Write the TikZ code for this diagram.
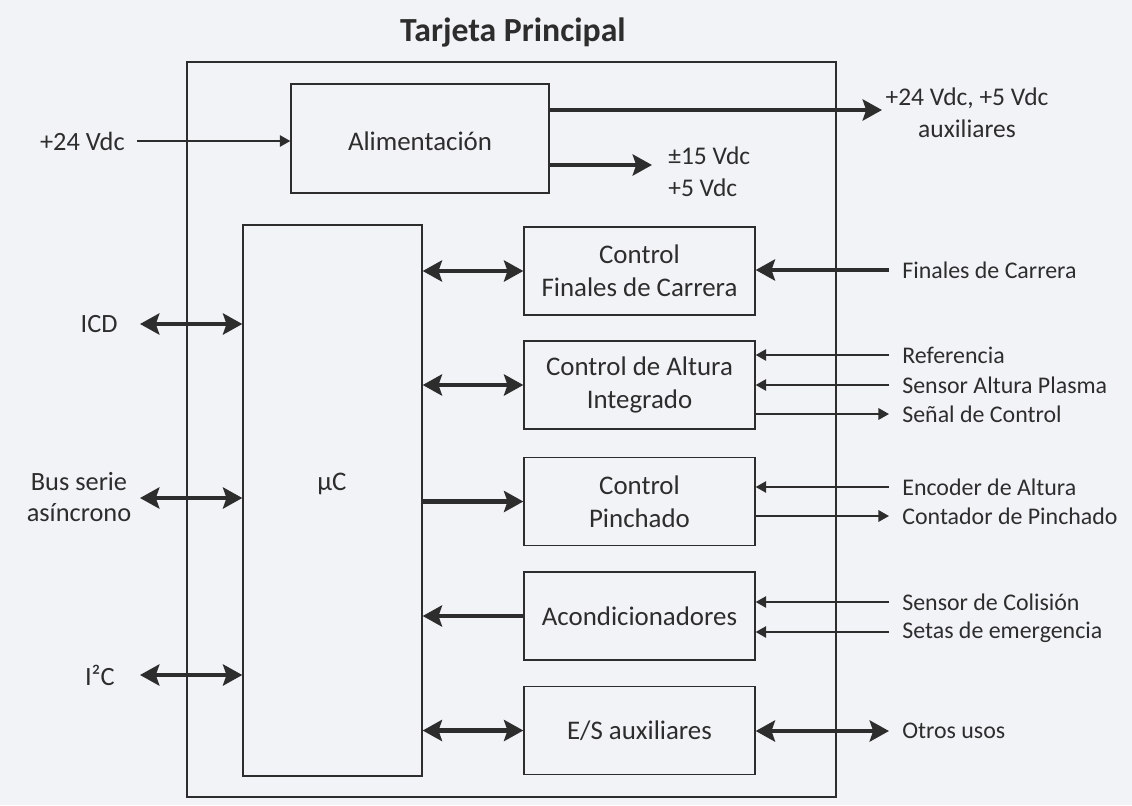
\documentclass[tikz,border=0pt]{standalone}
\usepackage{fontspec}
\setmainfont{Carlito}
\usepackage{xcolor}
\usetikzlibrary{arrows.meta,positioning}
\definecolor{paper}{RGB}{242,243,247}
\definecolor{ink}{RGB}{45,45,45}

\begin{document}
\begin{tikzpicture}[x=0.02cm, y=-0.02cm,
        box/.style={rectangle, draw=ink, line width=0.8pt, align=center, text=ink, font=\fontsize{15.3}{19}\selectfont},
        sig/.style={text=ink, inner sep=0pt, font=\fontsize{13.6}{16}\selectfont},
        top/.style={text=ink, inner sep=0pt, font=\fontsize{14.5}{18}\selectfont},
        side/.style={text=ink, inner sep=0pt, font=\fontsize{15}{18}\selectfont},
        bus/.style={draw=ink, line width=2.8pt, -{Stealth[length=11pt, width=12pt, inset=2pt]}},
        bibus/.style={draw=ink, line width=2.8pt, {Stealth[length=11pt, width=12pt, inset=2pt]}-{Stealth[length=11pt, width=12pt, inset=2pt]}},
        wire/.style={draw=ink, line width=1pt, -{Triangle[length=6pt, width=6.5pt]}}
    ]
    
    % Background and size of the picture
    \fill[paper] (0,0) rectangle (1132,805);
    \useasboundingbox (0,0) rectangle (1132,805);
    
    % Board
    \node[box, minimum width=12.98cm, minimum height=14.7cm] (board) at (511.5,429.5) {};
    \node[text=ink, font=\bfseries\fontsize{19.2}{23}\selectfont] (title) at (513,33) {Tarjeta Principal};
    
    % Power supply
    \node[box, minimum width=5.16cm, minimum height=2.18cm] (alim) at (420,138.5) {};
    \node[box, draw=none] (alimlabel) at (420,141) {Alimentación};
    
    % Microcontroller
    \node[box, minimum width=3.58cm, minimum height=11.02cm] (uc) at (332.5,500.5) {};
    \node[box, draw=none] (uclabel) at (332,484) {µC};
    
    % Blocks on the right
    \node[box, minimum width=4.62cm, minimum height=1.76cm] (fin) at (639.5,271) {Control\\Finales de Carrera};
    \node[box, minimum width=4.62cm, minimum height=1.76cm] (alt) at (639.5,385) {Control de Altura\\Integrado};
    \node[box, minimum width=4.62cm, minimum height=1.76cm] (pin) at (639.5,501.5) {Control\\Pinchado};
    \node[box, minimum width=4.62cm, minimum height=1.76cm] (acon) at (639.5,616) {Acondicionadores};
    \node[box, minimum width=4.62cm, minimum height=1.76cm] (aux) at (639.5,730.5) {E/S auxiliares};
    
    % Inputs on the left
    \coordinate (vin) at (137,141);
    \node[side, anchor=east] (vin-l) at (125,141) {+24 Vdc};
    \coordinate (icd) at (140,324);
    \node[side, anchor=east] (icd-l) at (118,324) {ICD};
    \coordinate (bus) at (140,498);
    \node[side, align=center] (bus-l) at (79,497) {Bus serie\\asíncrono};
    \coordinate (iic) at (140,675);
    \node[side, anchor=east] (iic-l) at (115,675) {I²C};
    
    \draw[wire] (vin) -- (alim.west |- vin);
    \draw[bibus] (icd) -- (uc.west |- icd);
    \draw[bibus] (bus) -- (uc.west |- bus);
    \draw[bibus] (iic) -- (uc.west |- iic);
    
    % Power supply outputs
    \coordinate (vaux) at (882,110);
    \node[top, align=center] (vaux-l) at (967,113) {+24 Vdc, +5 Vdc\\auxiliares};
    \coordinate (vint) at (652,165);
    \node[top, align=left, anchor=west] (vint-l) at (668,172) {±15 Vdc\\+5 Vdc};
    
    \draw[bus] (alim.east |- vaux) -- (vaux);
    \draw[bus] (alim.east |- vint) -- (vint);
    
    % Microcontroller to blocks
    \draw[bibus] (uc.east |- fin.west) -- (fin.west);
    \draw[bibus] (uc.east |- alt.west) -- (alt.west);
    \draw[bus] (uc.east |- pin.west) -- (pin.west);
    \draw[bus] (acon.west) -- (uc.east |- acon.west);
    \draw[bibus] (uc.east |- aux.west) -- (aux.west);
    
    % Signals on the right
    \coordinate (finc) at (889,270);
    \node[sig, anchor=west] (finc-l) at (902,270) {Finales de Carrera};
    \coordinate (ref) at (889,355);
    \node[sig, anchor=west] (ref-l) at (902,355) {Referencia};
    \coordinate (sap) at (889,385);
    \node[sig, anchor=west] (sap-l) at (902,385) {Sensor Altura Plasma};
    \coordinate (sctl) at (889,414);
    \node[sig, anchor=west] (sctl-l) at (902,414) {Señal de Control};
    \coordinate (enc) at (889,487);
    \node[sig, anchor=west] (enc-l) at (902,487) {Encoder de Altura};
    \coordinate (cnt) at (889,516);
    \node[sig, anchor=west] (cnt-l) at (902,516) {Contador de Pinchado};
    \coordinate (col) at (889,602);
    \node[sig, anchor=west] (col-l) at (902,602) {Sensor de Colisión};
    \coordinate (set) at (889,632);
    \node[sig, anchor=west] (set-l) at (902,632) {Setas de emergencia};
    \coordinate (otr) at (889,731);
    \node[sig, anchor=west] (otr-l) at (902,731) {Otros usos};
    
    \draw[bus] (finc) -- (fin.east |- finc);
    \draw[wire] (ref) -- (alt.east |- ref);
    \draw[wire] (sap) -- (alt.east |- sap);
    \draw[wire] (alt.east |- sctl) -- (sctl);
    \draw[wire] (enc) -- (pin.east |- enc);
    \draw[wire] (pin.east |- cnt) -- (cnt);
    \draw[wire] (col) -- (acon.east |- col);
    \draw[wire] (set) -- (acon.east |- set);
    \draw[bibus] (aux.east |- otr) -- (otr);
    
\end{tikzpicture}
\end{document}
